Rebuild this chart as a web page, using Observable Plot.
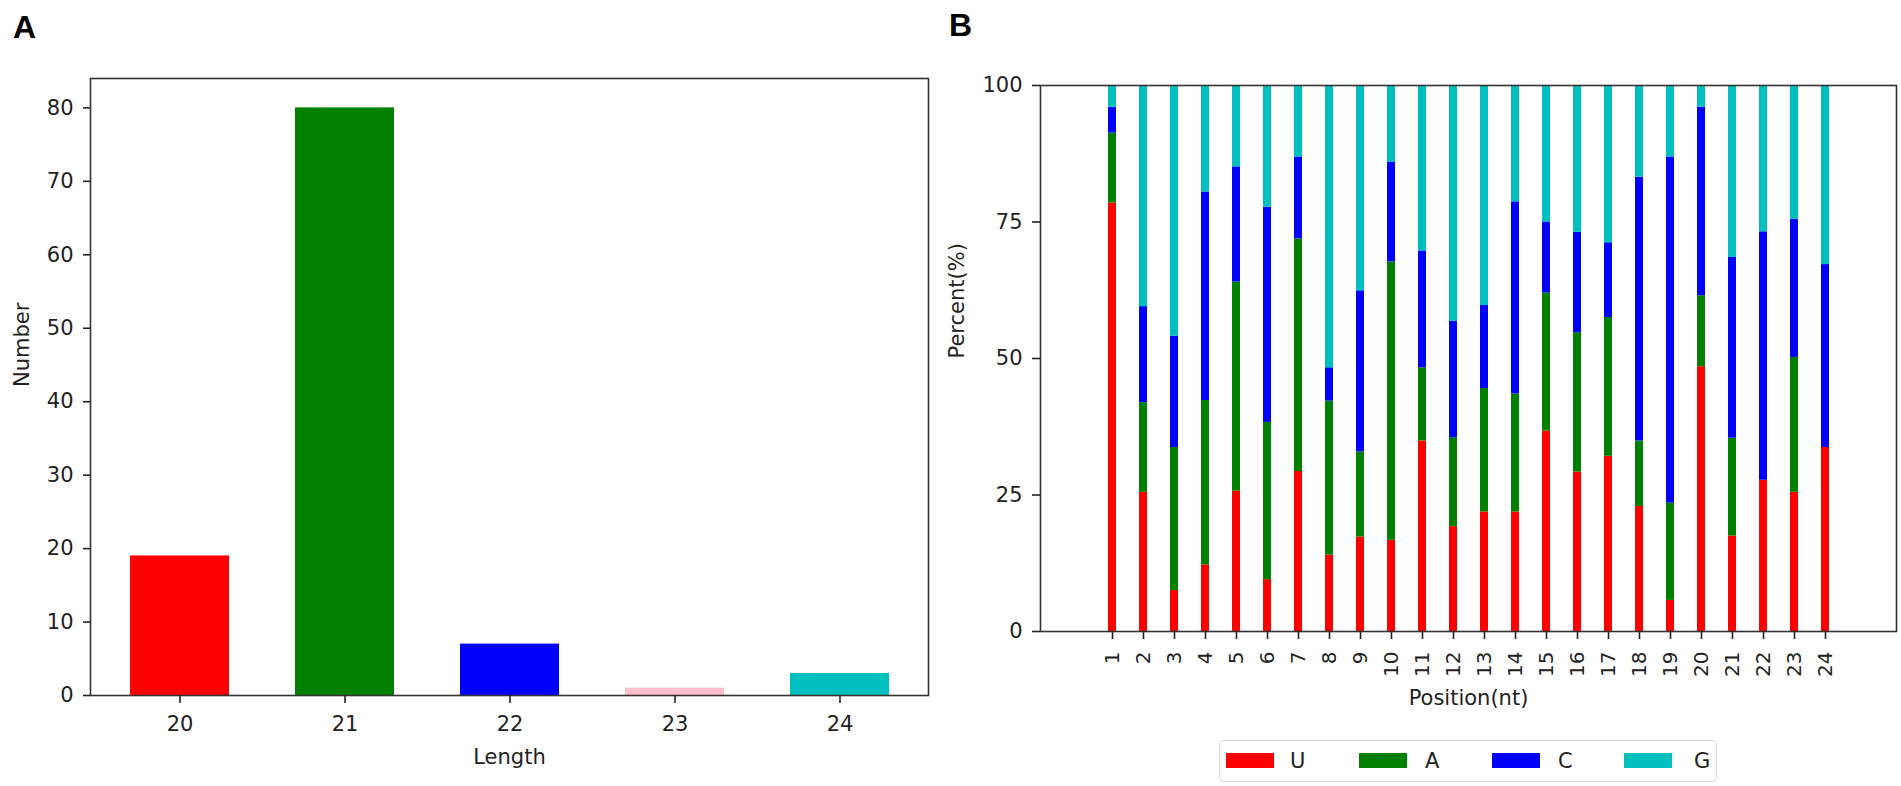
<!DOCTYPE html>
<html>
<head>
<meta charset="utf-8">
<script src="https://cdn.jsdelivr.net/npm/d3@7"></script>
<script src="https://cdn.jsdelivr.net/npm/@observablehq/plot@0.6"></script>
<style>
  body { margin: 0; background: #fff; }
  #wrap { position: relative; width: 1901px; height: 786px; font-family: "DejaVu Sans", sans-serif; color: #222; overflow: hidden; }
  .panel { position: absolute; top: 0; }
  .tag { position: absolute; z-index: 5; font-family: "Liberation Sans", Arial, sans-serif; font-weight: bold; font-size: 32px; line-height: 1; color: #000; }
  #legend { position: absolute; left: 1219px; top: 740px; width: 498px; height: 42px; box-sizing: border-box;
            border: 1.5px solid #d6d6d6; border-radius: 5px; background: #fff; }
  .sw { position: absolute; top: 12px; width: 48px; height: 15px; }
  .lb { position: absolute; top: 8px; font-size: 21px; line-height: 24px; font-family: "DejaVu Sans", sans-serif; color: #222; }
</style>
</head>
<body>
<div id="wrap">
  <div class="panel" id="panelA" style="left:0;width:930px;"></div>
  <div class="panel" id="panelB" style="left:930px;width:971px;"></div>
  <div id="legend"></div>
  <div class="tag" style="left:13px;top:11px;">A</div>
  <div class="tag" style="left:949px;top:9px;">B</div>
</div>
<script>
// ---- Panel A data ----
const lengths = [20, 21, 22, 23, 24];
const counts = [19, 80, 7, 1, 3];
const lengthColors = ["#ff0000", "#008000", "#0000ff", "#ffc0cb", "#00bfbf"];

// ---- Panel B data ----
const positions = ["1","2","3","4","5","6","7","8","9","10","11","12","13","14","15","16","17","18","19","20","21","22","23","24"];
const bases = ["U", "A", "C", "G"];
const baseColors = ["#ff0000", "#008000", "#0000ff", "#00bfbf"];
const pctU = [78.5,25.5,7.5,12.2,25.7,9.5,29.3,14.0,17.3,16.7,34.9,19.2,21.9,21.9,36.7,29.2,32.1,22.9,5.7,48.5,17.5,27.7,25.5,33.7];
const pctA = [12.8,16.4,26.2,30.1,38.3,28.8,42.6,28.2,15.6,51.0,13.4,16.3,22.6,21.6,25.3,25.5,25.4,12.0,17.8,13.0,17.9,0,24.7,0];
const pctC = [4.7,17.6,20.4,38.2,21.1,39.4,15.0,6.1,29.5,18.3,21.4,21.3,15.2,35.2,13.0,18.4,13.7,48.3,63.4,34.5,33.1,45.5,25.3,33.5];
const pctG = [4.0,40.5,45.9,19.5,14.9,22.3,13.1,51.7,37.6,14.0,30.3,43.2,40.3,21.3,25.0,26.9,28.8,16.8,13.1,4.0,31.5,26.8,24.5,32.8];
const yTicksA = [0, 10, 20, 30, 40, 50, 60, 70, 80];
const yTicksB = [0, 25, 50, 75, 100];

const font = { fontFamily: "DejaVu Sans, sans-serif", fontSize: "21px", color: "#222", background: "transparent" };

// ---- Panel A ----
const dataA = lengths.map((l, i) => ({ length: l, count: counts[i], color: lengthColors[i] }));
const chartA = Plot.plot({
  width: 930, height: 786,
  marginLeft: 90, marginRight: 2, marginTop: 78, marginBottom: 91,
  style: font,
  x: { type: "band", domain: lengths, paddingInner: 0.4, paddingOuter: 0.236, align: 0.5 },
  y: { domain: [0, 84] },
  marks: [
    Plot.barY(dataA, { x: "length", y: "count", fill: "color" }),
    Plot.frame({ stroke: "#333", strokeWidth: 1.6 }),
    Plot.axisX({ tickSize: 8, tickPadding: 13, strokeWidth: 1.6, label: null }),
    Plot.axisY({ ticks: yTicksA, tickSize: 7, tickPadding: 10, strokeWidth: 1.6, label: null }),
    Plot.text(["Length"], { text: d => d, frameAnchor: "bottom", dy: 62, lineAnchor: "middle", fontSize: 21 }),
    Plot.text(["Number"], { text: d => d, frameAnchor: "left", dx: -68, rotate: -90, fontSize: 21 })
  ]
});
document.getElementById("panelA").appendChild(chartA);

// ---- Panel B ----
const seriesB = [pctU, pctA, pctC, pctG];
const dataB = [];
positions.forEach((p, i) => {
  bases.forEach((b, j) => dataB.push({ pos: p, base: b, pct: seriesB[j][i] }));
});
const chartB = Plot.plot({
  width: 971, height: 735,
  marginLeft: 110, marginRight: 5, marginTop: 85, marginBottom: 104,
  style: font,
  x: { type: "band", domain: positions, paddingInner: 0.75, paddingOuter: 1.88, align: 0.5 },
  y: { domain: [0, 100] },
  color: { domain: bases, range: baseColors },
  marks: [
    Plot.barY(dataB, { x: "pos", y: "pct", fill: "base" }),
    Plot.frame({ stroke: "#333", strokeWidth: 1.6 }),
    Plot.axisX({ tickRotate: -90, tickSize: 8, tickPadding: 12, strokeWidth: 1.6, fontSize: 20, label: null }),
    Plot.axisY({ ticks: yTicksB, tickSize: 8, tickPadding: 10, strokeWidth: 1.6, label: null }),
    Plot.text(["Position(nt)"], { text: d => d, frameAnchor: "bottom", dy: 67, lineAnchor: "middle", fontSize: 21 }),
    Plot.text(["Percent(%)"], { text: d => d, frameAnchor: "left", dx: -83, rotate: -90, fontSize: 21 })
  ]
});
document.getElementById("panelB").appendChild(chartB);

// ---- Legend ----
const legend = document.getElementById("legend");
const swLeft = [6, 139, 272, 404];
const lbLeft = [70, 205, 338, 474];
bases.forEach((b, i) => {
  const s = document.createElement("div");
  s.className = "sw"; s.style.left = swLeft[i] + "px"; s.style.background = baseColors[i];
  legend.appendChild(s);
  const t = document.createElement("div");
  t.className = "lb"; t.style.left = lbLeft[i] + "px"; t.textContent = b;
  legend.appendChild(t);
});
</script>
</body>
</html>
